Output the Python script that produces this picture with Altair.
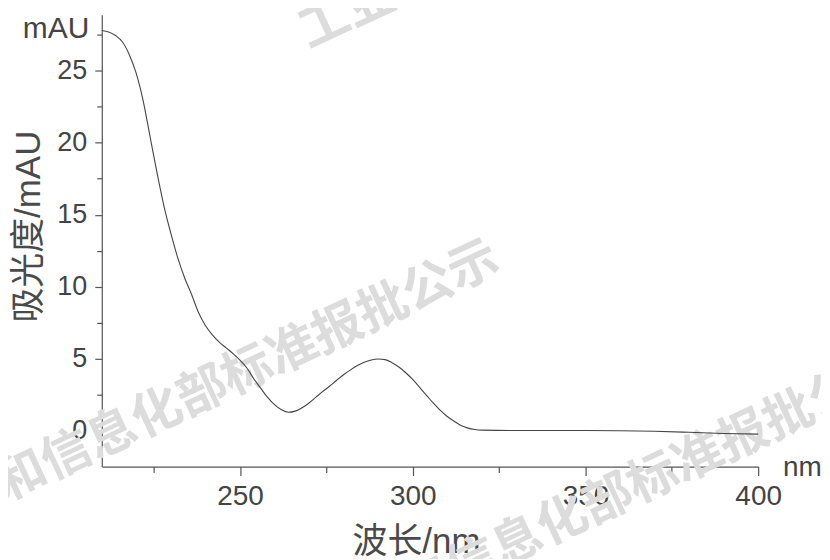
import altair as alt
import pandas as pd

# ---- data ----
wavelength = [210, 212, 214, 216, 218, 220, 222, 224, 226, 228, 230, 232, 234, 236,
              238, 240, 242, 244, 246, 248, 250, 252, 254, 256, 258, 260, 262, 264,
              266, 268, 270, 272, 274, 276, 278, 280, 282, 284, 286, 288, 290, 292,
              294, 296, 298, 300, 302, 304, 306, 308, 310, 312, 314, 316, 318, 320,
              330, 340, 350, 360, 370, 380, 390, 400]
absorbance = [27.8, 27.7, 27.45, 27.0, 26.1, 24.8, 22.9, 20.4, 17.9, 15.6, 13.7, 12.0,
              10.6, 9.45, 8.2, 7.3, 6.65, 6.15, 5.75, 5.35, 4.9, 4.35, 3.6, 2.95, 2.3,
              1.8, 1.45, 1.27, 1.35, 1.58, 1.92, 2.32, 2.72, 3.1, 3.5, 3.88, 4.22, 4.52,
              4.75, 4.9, 4.97, 4.93, 4.72, 4.42, 4.02, 3.55, 3.0, 2.45, 1.9, 1.4,
              0.98, 0.65, 0.35, 0.17, 0.07, 0.03, 0.0, 0.0, 0.0, -0.01, -0.05, -0.12,
              -0.2, -0.25]

x_tick_values = [225, 250, 275, 300, 325, 350, 375, 400]
y_tick_values = [0, 2.5, 5, 7.5, 10, 12.5, 15, 17.5, 20, 22.5, 25, 27.5]

x_title = "波长/nm"
y_title = "吸光度/mAU"
x_unit = ["nm"]

watermark_text = ["工业和信息化部标准报批公示"] * 3
watermark_wl = [239.2, 353.1, 356.6]
watermark_abs = [2.63, 37.0, -4.85]

curve = pd.DataFrame({"wl": wavelength, "abs": absorbance})
marks = pd.DataFrame({"wl": watermark_wl, "abs": watermark_abs, "t": watermark_text})
unit = pd.DataFrame({"wl": [x_tick_values[-1]], "t": x_unit})

FONT = "Liberation Sans, Noto Sans CJK SC"
W, H = 658, 453

x_enc = alt.X(
    "wl:Q",
    scale=alt.Scale(domain=[210, 400], nice=False, zero=False),
    axis=alt.Axis(
        title=x_title,
        values=x_tick_values,
        labelExpr="datum.value % 50 == 0 ? datum.label : ''",
        tickSize={"condition": {"test": "datum.value % 50 == 0", "value": 9}, "value": 6},
        labelFlush=False,
        labelOverlap=False,
        grid=False,
        labelPadding=7,
        labelFontSize=28,
        titleFontSize=35,
        titlePadding=14,
        titleX=315,
    ),
)
y_enc = alt.Y(
    "abs:Q",
    scale=alt.Scale(domain=[-2.5, 28.9], nice=False, zero=False),
    axis=alt.Axis(
        title=y_title,
        values=y_tick_values,
        labelExpr="datum.value == 27.5 ? 'mAU' : (datum.value % 5 == 0 ? datum.label : '')",
        tickSize={"condition": {"test": "datum.value % 5 == 0", "value": 7}, "value": 5},
        labelOffset={"condition": {"test": "datum.value == 27.5", "value": -6}, "value": 0},
        labelFontSize={"condition": {"test": "datum.value == 27.5", "value": 30}, "value": 27},
        labelOverlap=False,
        grid=False,
        labelPadding=8,
        titleFontSize=35,
        titleX=-55,
        titleY=212,
    ),
)

watermark = alt.Chart(marks).mark_text(
    font="Noto Sans CJK SC", fontSize=50, fontWeight="bold", color="#dcdcdc",
    angle=335, align="center", baseline="middle",
).encode(x=x_enc, y=y_enc, text="t:N")

line = alt.Chart(curve).mark_line(
    color="#454545", strokeWidth=1.1, interpolate="monotone"
).encode(x=x_enc, y=y_enc)

unit_label = alt.Chart(unit).mark_text(
    font=FONT, fontSize=28, color="#444444", align="left", baseline="middle", dx=25, dy=1,
).encode(x=x_enc, y=alt.value(H), text="t:N")

chart = alt.layer(watermark, line, unit_label).properties(
    width=W,
    height=H,
    padding={"left": 94, "top": 6, "right": 64, "bottom": 92},
    autosize=alt.AutoSizeParams(type="none"),
).configure_axis(
    labelFont=FONT,
    titleFont=FONT,
    labelColor="#444444",
    titleColor="#4a4a4a",
    titleFontWeight="normal",
    domainColor="#555555",
    tickColor="#555555",
    domainWidth=1.2,
    tickWidth=1.2,
).configure_view(strokeWidth=0)

chart.save("out.html", embed_options={"renderer": "svg", "actions": False})
